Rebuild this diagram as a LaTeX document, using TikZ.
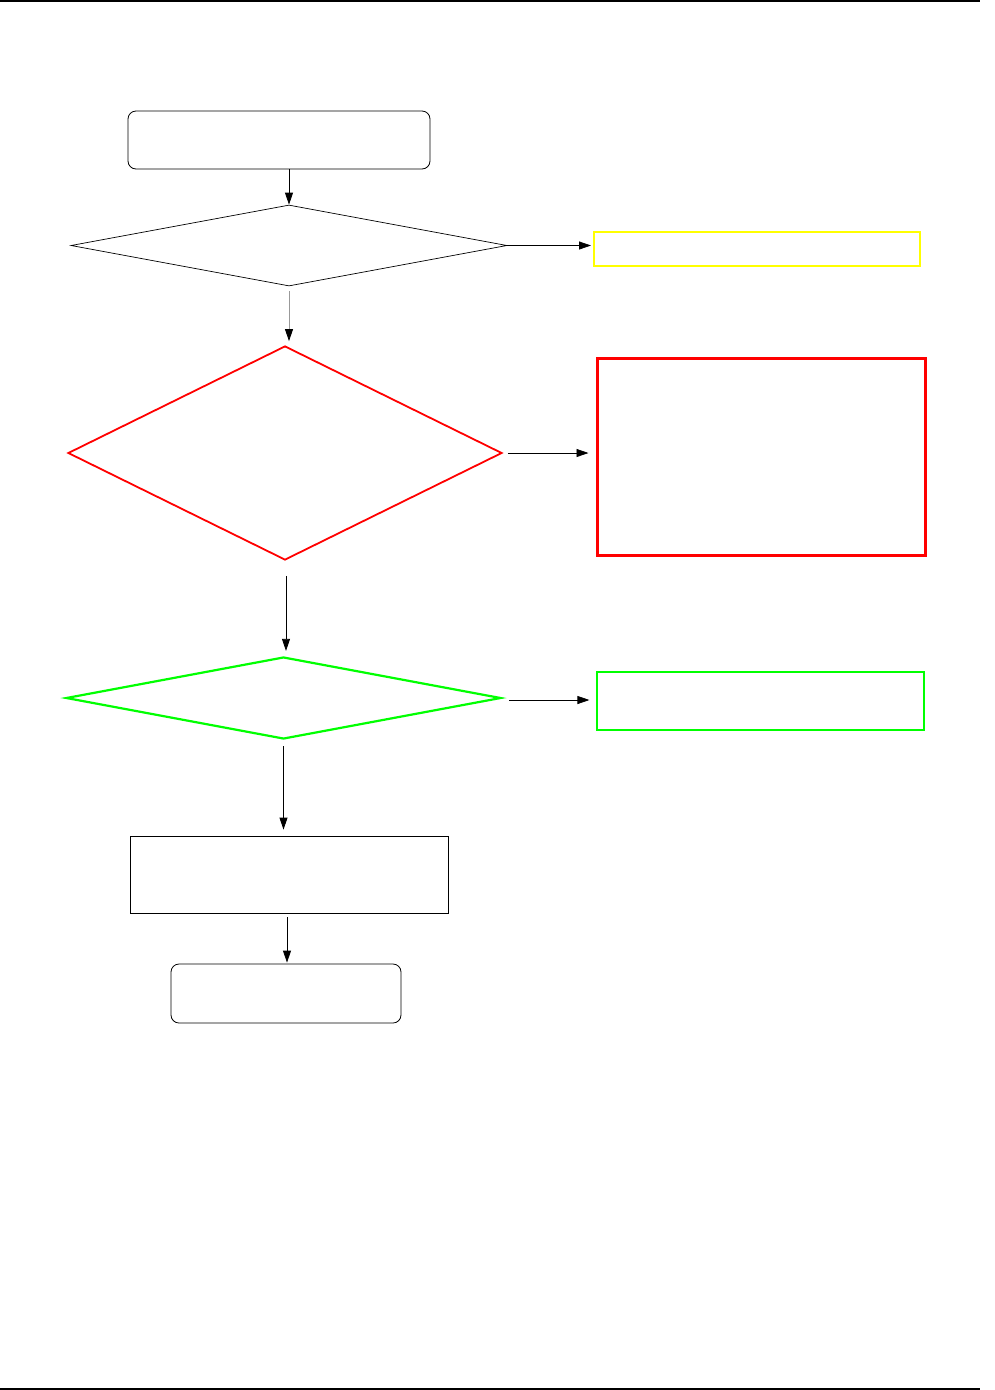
\documentclass[tikz,border=0pt]{standalone}
\usepackage{xcolor}
\usetikzlibrary{shapes.geometric,arrows.meta}
\definecolor{flagyellow}{HTML}{FFFF00}
\definecolor{flagred}{HTML}{FF0000}
\definecolor{flaggreen}{HTML}{00FF00}
\begin{document}
\begin{tikzpicture}[
  x=1pt, y=-1pt,
  termbox/.style={rectangle, rounded corners=8pt, draw=black, line width=0.8pt, inner sep=0pt},
  procbox/.style={rectangle, draw=black, line width=0.8pt, inner sep=0pt},
  decision/.style={diamond, inner sep=0pt},
  flagbox/.style={rectangle, inner sep=0pt},
  flow/.style={-{Triangle[length=12pt,width=8pt,color=black]}, line width=0.8pt},
]
\useasboundingbox (0,0) rectangle (995,1390);

% page rules
\draw[line width=1.4pt] (0,1) -- (980,1);
\draw[line width=1.4pt] (0,1389) -- (980,1389);

% main column
\node[termbox, minimum width=302pt, minimum height=58pt] (start) at (279,140) {};
\node[decision, draw=black, line width=0.7pt, minimum width=436pt, minimum height=81pt] (d1) at (289,245.5) {};
\node[decision, draw=flagred, line width=1.8pt, minimum width=434pt, minimum height=214pt] (d2) at (285,453) {};
\node[decision, draw=flaggreen, line width=2.2pt, minimum width=435pt, minimum height=82pt] (d3) at (283.5,698) {};
\node[procbox, minimum width=318pt, minimum height=77pt] (proc) at (289,874.5) {};
\node[termbox, minimum width=230pt, minimum height=59pt] (stop) at (286,993.5) {};

% side boxes
\node[flagbox, draw=flagyellow, line width=2pt, minimum width=326pt, minimum height=34pt] (warn) at (757,249) {};
\node[flagbox, draw=flagred, line width=3pt, minimum width=328pt, minimum height=197pt] (fail) at (761,456.5) {};
\node[flagbox, draw=flaggreen, line width=1.1pt, minimum width=327pt, minimum height=58pt] (pass) at (760.5,701) {};

% connectors
\draw[flow] (d1.north |- start.south) -- (d1.north);
\draw[flow, draw=black!40, shorten <=5pt, shorten >=4pt] (d1.south) -- (d1.south |- d2.north);
\draw[flow, shorten >=2pt] (d1.east) -- (d1.east -| warn.west);
\draw[flow, shorten <=5pt, shorten >=7pt] (d2.east) -- (d2.east -| fail.west);
\draw[flow, shorten <=15pt, shorten >=5pt] ([xshift=1pt]d2.south) -- ([xshift=1pt]d2.south |- d3.north);
\draw[flow, shorten <=7pt, shorten >=7pt] ([yshift=-2pt]d3.east) -- ([yshift=-2pt]d3.east -| pass.west);
\draw[flow, shorten <=6pt, shorten >=6pt] (d3.south) -- (d3.south |- proc.north);
\draw[flow, shorten <=4pt, shorten >=1pt] ([xshift=-2pt]proc.south) -- ([xshift=-2pt]proc.south |- stop.north);
\end{tikzpicture}
\end{document}
